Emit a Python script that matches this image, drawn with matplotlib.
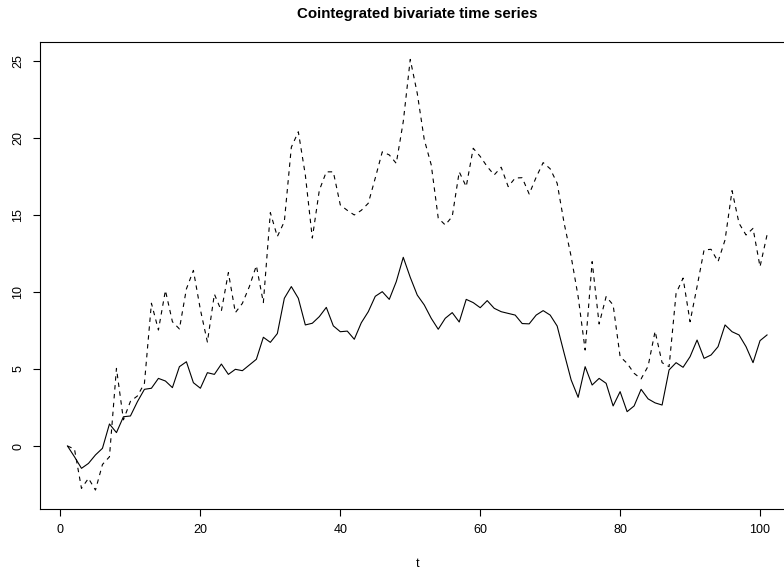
import numpy as np
import matplotlib
matplotlib.use("Agg")
import matplotlib.pyplot as plt

plt.rcParams["font.family"] = ["Liberation Sans", "DejaVu Sans"]

# time index
t = np.arange(1, 102)

# solid series
y_solid = [0, -0.7, -1.45, -1.13, -0.58, -0.15, 1.43, 0.87, 1.9, 1.95,
           2.88, 3.68, 3.75, 4.39, 4.22, 3.79, 5.15, 5.47, 4.11, 3.75,
           4.76, 4.65, 5.32, 4.65, 4.98, 4.89, 5.26, 5.63, 7.06, 6.73,
           7.3, 9.59, 10.35, 9.59, 7.86, 7.97, 8.4, 9.0, 7.8, 7.42,
           7.46, 6.93, 8.0, 8.72, 9.72, 10.02, 9.52, 10.67, 12.25, 10.95,
           9.8, 9.16, 8.29, 7.58, 8.29, 8.66, 8.05, 9.52, 9.31, 8.98,
           9.44, 8.94, 8.72, 8.61, 8.5, 7.95, 7.93, 8.5, 8.79, 8.5,
           7.79, 6.02, 4.29, 3.16, 5.15, 3.96, 4.39, 4.07, 2.6, 3.53,
           2.23, 2.6, 3.68, 3.06, 2.8, 2.66, 4.94, 5.41, 5.11, 5.8,
           6.88, 5.69, 5.91, 6.45, 7.86, 7.42, 7.21, 6.45, 5.41, 6.84,
           7.21]

# dashed series
y_dashed = [0, -0.2, -2.75, -2.1, -2.86, -1.2, -0.7, 5.04, 1.7, 2.9,
            3.25, 4.07, 9.27, 7.53, 10.1, 8.07, 7.6, 10.2, 11.4, 8.85,
            6.75, 9.86, 8.77, 11.26, 8.66, 9.26, 10.35, 11.71, 9.31, 15.15,
            13.6, 14.57, 19.4, 20.4, 17.6, 13.5, 16.6, 17.8, 17.8, 15.65,
            15.3, 15.0, 15.3, 15.76, 17.4, 19.1, 18.9, 18.35, 21.06, 25.1,
            22.9, 19.9, 18.25, 14.8, 14.35, 14.9, 17.8, 16.84, 19.33, 18.8,
            18.14, 17.6, 18.1, 16.84, 17.4, 17.42, 16.36, 17.45, 18.4, 18.0,
            17.06, 14.46, 12.3, 9.7, 6.23, 11.97, 7.92, 9.7, 9.16, 5.8,
            5.37, 4.72, 4.36, 5.18, 7.45, 5.41, 5.15, 9.91, 10.9, 8.07,
            10.35, 12.73, 12.77, 11.97, 13.38, 16.58, 14.46, 13.7, 14.13, 11.64,
            13.7]

xticks = [0, 20, 40, 60, 80, 100]
yticks = [0, 5, 10, 15, 20, 25]

fig = plt.figure(figsize=(7.84, 5.70), dpi=100)
# R-style plot region; right edge falls just outside the image like the reference
ax = fig.add_axes([39.5 / 784, 61 / 570, 755.5 / 784, 467 / 570])

ax.plot(t, y_solid, color="black", linewidth=0.8)
ax.plot(t, y_dashed, color="black", linewidth=0.8, dashes=(4, 4))

ax.set_xlim(-3, 105)
ax.set_ylim(-4.09, 26.23)
ax.set_xticks(xticks)
ax.set_yticks(yticks)
ax.tick_params(direction="out", length=5, width=0.8, labelsize=9, pad=5.5)
ax.tick_params(axis="y", pad=6)
for lab in ax.get_yticklabels():
    lab.set_rotation(90)
    lab.set_va("center")

for s in ax.spines.values():
    s.set_linewidth(0.8)

ax.set_xlabel("t", fontsize=9, labelpad=16)
ax.set_title("Cointegrated bivariate time series", fontsize=10.8, fontweight="bold", pad=17.5)

fig.savefig("out.png", dpi=100)
